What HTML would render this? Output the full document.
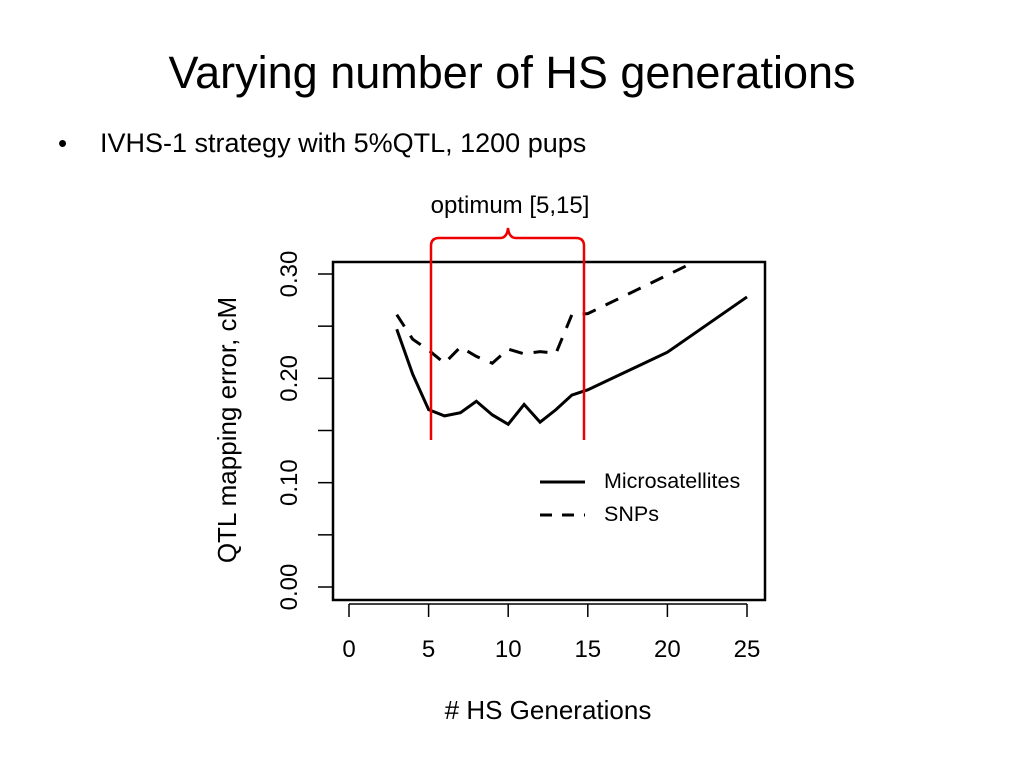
<!DOCTYPE html>
<html><head><meta charset="utf-8"><style>
body{margin:0;background:#fff;font-family:"Liberation Sans",Arial,sans-serif}
</style></head><body>
<svg width="1024" height="768" xmlns="http://www.w3.org/2000/svg" font-family="Liberation Sans, Arial, sans-serif">
<text x="512" y="88" font-size="45" text-anchor="middle">Varying number of HS generations</text>
<text x="58" y="152" font-size="26">•</text>
<text x="100" y="152" font-size="27">IVHS-1 strategy with 5%QTL, 1200 pups</text>
<g id="chart"></g>
</svg>
<script>
const gens = [3,4,5,6,7,8,9,10,11,12,13,14,15,20,25];
const micro = [0.247,0.204,0.170,0.164,0.167,0.178,0.165,0.156,0.175,0.158,0.170,0.184,0.189,0.225,0.278];
const snps = [0.261,0.2375,0.227,0.2145,0.230,0.221,0.2145,0.228,0.2235,0.2256,0.224,0.261,0.262,0.299,0.336];
const xTicks = [0,5,10,15,20,25];
const yTicks = [0,0.05,0.10,0.15,0.20,0.25,0.30];
const yLabels = ["0.00","","0.10","","0.20","","0.30"];
const NS="http://www.w3.org/2000/svg";
const g=document.getElementById('chart');
const X=v=>349+v*(747-349)/25;
const Y=v=>587-v*(587-274)/0.30;
function el(t,a,p){const e=document.createElementNS(NS,t);for(const k in a)e.setAttribute(k,a[k]);(p||g).appendChild(e);return e;}
const box=el('rect',{x:333,y:262,width:432,height:338,fill:'none',stroke:'#000','stroke-width':2.5});


el('clipPath',{id:'clip'});
el('rect',{x:333,y:262,width:432,height:338},document.getElementById('clip'));
yTicks.forEach((t,i)=>{
 const l=el('line',{x1:318,x2:333,y1:Y(t),y2:Y(t),stroke:'#000','stroke-width':1.5});
 
 
 if(yLabels[i]){const tx=el('text',{x:0,y:0,'font-size':24,'text-anchor':'middle',transform:`translate(297,${Y(t)}) rotate(-90)`});tx.textContent=yLabels[i];
 
 }
});
const yt=el('text',{x:0,y:0,'font-size':26,'text-anchor':'middle',transform:'translate(236,430) rotate(-90)'});yt.textContent='QTL mapping error, cM';


el('line',{x1:X(0),x2:X(25),y1:604,y2:604,stroke:'#000','stroke-width':1.5});
xTicks.forEach(t=>{
 const l=el('line',{x1:X(t),x2:X(t),y1:604,y2:617,stroke:'#000','stroke-width':1.5});
 
 
 const tx=el('text',{x:X(t),y:657,'font-size':24,'text-anchor':'middle'});tx.textContent=t;
 
 
});
const xt=el('text',{x:548,y:719,'font-size':26,'text-anchor':'middle'});xt.textContent='# HS Generations';


const pts=s=>s.map((v,i)=>X(gens[i])+','+Y(v)).join(' ');
const m=el('polyline',{points:pts(micro),fill:'none',stroke:'#000','stroke-width':3,'clip-path':'url(#clip)'});


const s=el('polyline',{points:pts(snps),fill:'none',stroke:'#000','stroke-width':3,'stroke-dasharray':'14 11','clip-path':'url(#clip)'});


const l1=el('line',{x1:540,x2:585,y1:482,y2:482,stroke:'#000','stroke-width':3});


const t1=el('text',{x:604,y:488,'font-size':21.5});t1.textContent='Microsatellites';


const l2=el('line',{x1:540,x2:585,y1:515,y2:515,stroke:'#000','stroke-width':3,'stroke-dasharray':'12 10'});


const t2=el('text',{x:604,y:521,'font-size':21.5});t2.textContent='SNPs';


const br=el('path',{d:'M431,440 V246 Q431,238 439,238 H500 Q507,238 508,228 Q509,238 516,238 H576 Q584,238 584,246 V440',fill:'none',stroke:'#e00','stroke-width':2.5});


const ot=el('text',{x:510,y:213,'font-size':24,'text-anchor':'middle'});ot.textContent='optimum [5,15]';


</script>
</body></html>
